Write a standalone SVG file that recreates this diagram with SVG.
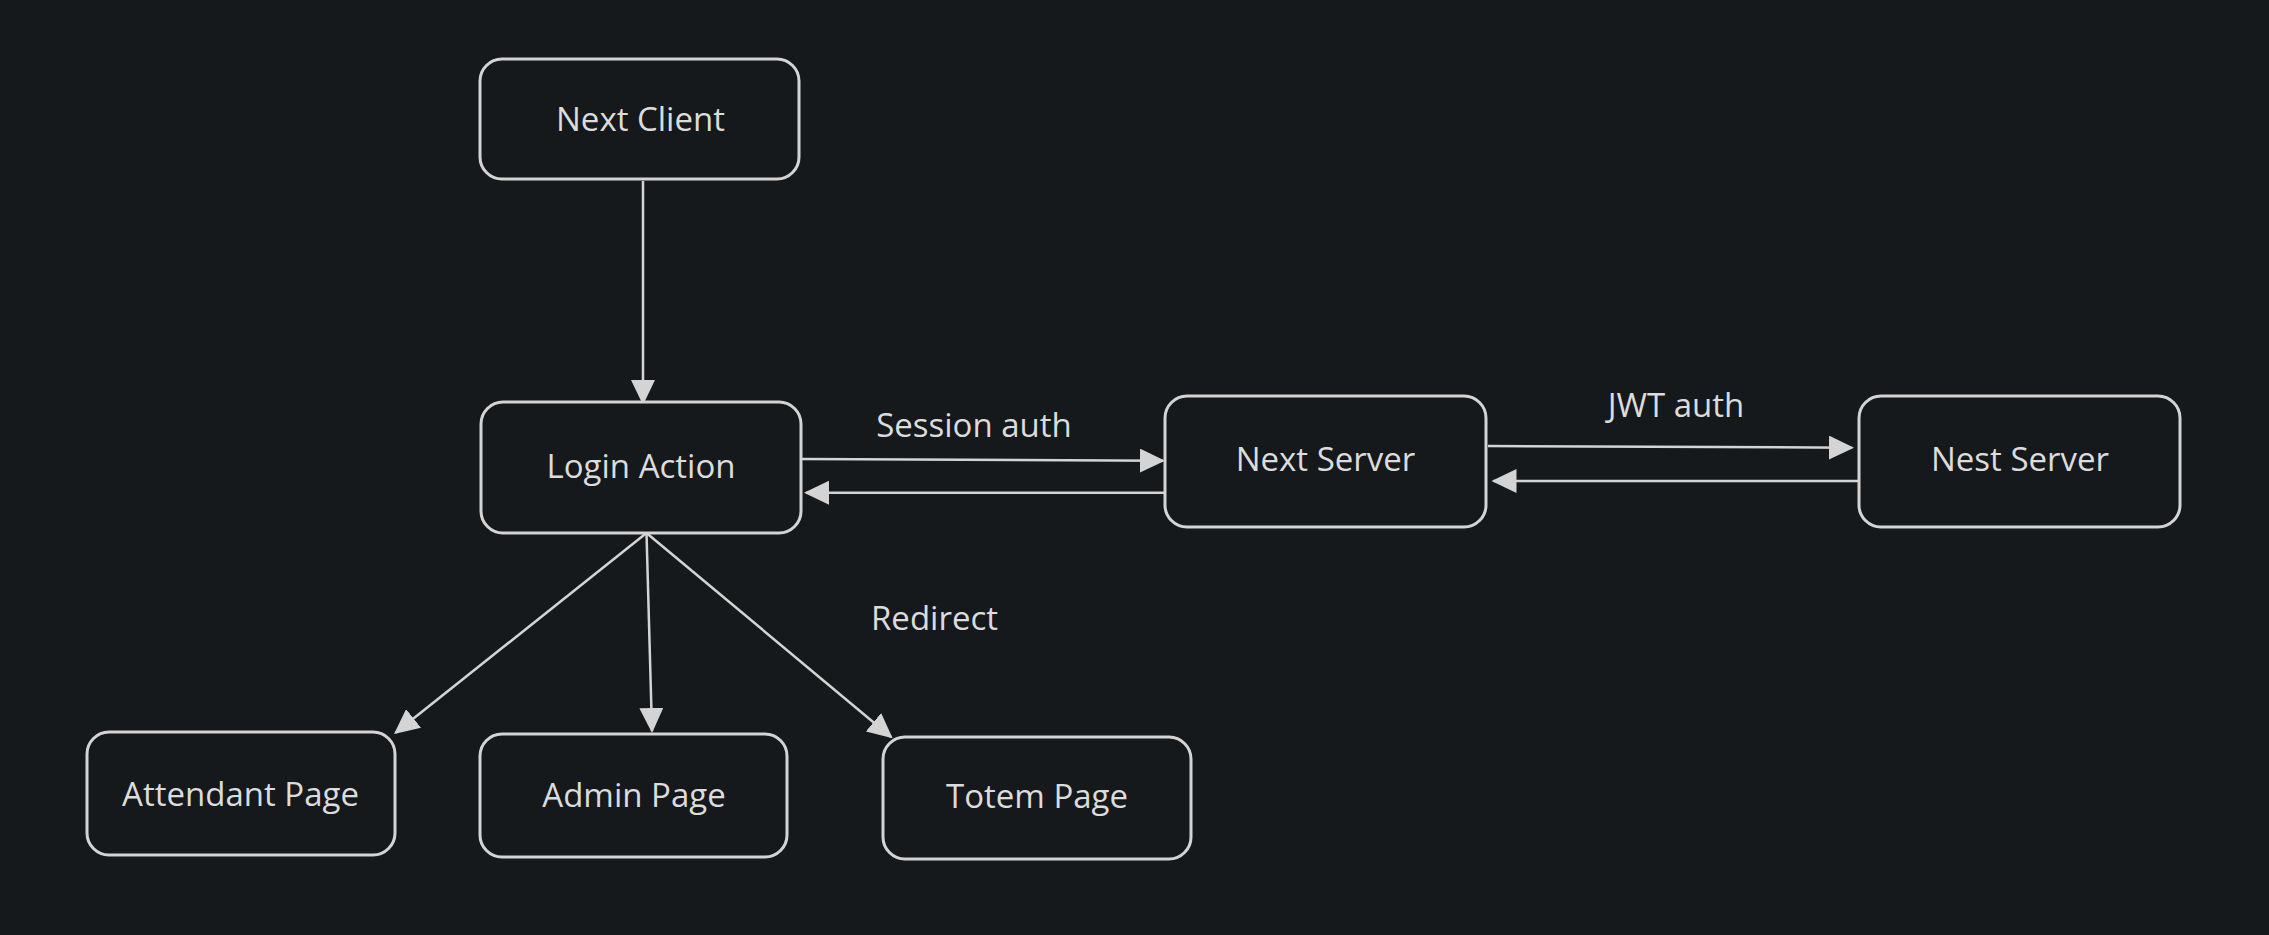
<svg xmlns="http://www.w3.org/2000/svg" width="2269" height="935" viewBox="0 0 2269 935">
<style>
.node rect{fill:#16191c;stroke:#d4d4d4;stroke-width:3}
.node text,.lbl{fill:#dcdcdc;font-family:"Open Sans","Noto Sans",sans-serif;font-size:33px;text-anchor:middle}
.edge{stroke:#d4d4d4;stroke-width:2.5;fill:none;marker-end:url(#ah)}
</style>
<defs>
<marker id="ah" markerUnits="userSpaceOnUse" markerWidth="26" markerHeight="24" refX="23" refY="12" orient="auto" viewBox="0 0 26 24">
<path d="M0,0 L25,12 L0,24 z" fill="#d4d4d4"/>
</marker>
</defs>
<rect width="2269" height="935" fill="#16191c"/>
<g id="connectors">
<line class="edge" x1="643" y1="181" x2="643" y2="403"/>
<line class="edge" x1="802" y1="459" x2="1163" y2="460.7"/>
<line class="edge" x1="1164.8" y1="492.7" x2="806" y2="492.7"/>
<line class="edge" x1="1488" y1="446" x2="1852" y2="447.7"/>
<line class="edge" x1="1858" y1="481" x2="1493.5" y2="481"/>
<line class="edge" x1="646.5" y1="533" x2="395.6" y2="732.8"/>
<line class="edge" x1="646.5" y1="533" x2="652" y2="731"/>
<line class="edge" x1="646.5" y1="533" x2="891.1" y2="737"/>
<text class="lbl" x="974" y="437">Session auth</text>
<text class="lbl" x="1676" y="417">JWT auth</text>
<text class="lbl" x="934.5" y="630">Redirect</text>
</g>
<g id="next-client" class="node"><rect x="480" y="59" width="319" height="120" rx="22"/><text x="640.5" y="131">Next Client</text></g>
<g id="login-action" class="node"><rect x="481" y="402" width="320" height="131" rx="22"/><text x="641" y="478">Login Action</text></g>
<g id="next-server" class="node"><rect x="1165" y="396" width="321" height="131" rx="22"/><text x="1325.5" y="471">Next Server</text></g>
<g id="nest-server" class="node"><rect x="1859" y="396" width="321" height="131" rx="22"/><text x="2020" y="471">Nest Server</text></g>
<g id="attendant-page" class="node"><rect x="87" y="732" width="308" height="123" rx="22"/><text x="240.5" y="806">Attendant Page</text></g>
<g id="admin-page" class="node"><rect x="480" y="734" width="307" height="123" rx="22"/><text x="634" y="807">Admin Page</text></g>
<g id="totem-page" class="node"><rect x="883" y="737" width="308" height="122" rx="22"/><text x="1037" y="808">Totem Page</text></g>
</svg>
